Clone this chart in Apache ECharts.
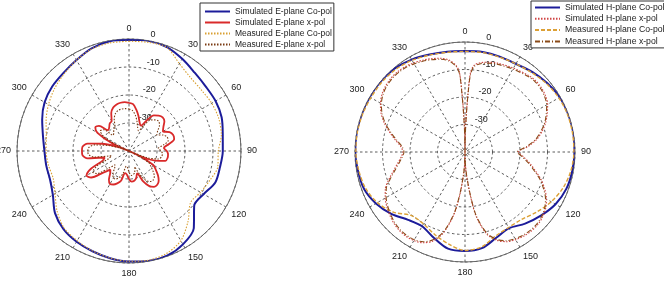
<!DOCTYPE html>
<html>
<head>
<meta charset="utf-8">
<script src="https://cdn.jsdelivr.net/npm/echarts@6/dist/echarts.min.js"></script>
<style>
  html, body { margin: 0; padding: 0; background: #fff; }
  #chart { width: 664px; height: 286px; }
</style>
</head>
<body>
<div id="chart"></div>
<script>
// ---- data (dB) ----
var coAngles = [0, 10, 20, 30, 40, 50, 60, 70, 80, 90, 100, 110, 120, 130, 140, 150, 160, 170,
                180, 190, 200, 210, 220, 230, 240, 250, 260, 270, 280, 290, 300, 310, 320, 330, 340, 350, 360];

var eSimCo  = [-0.3, 0, -0.5, -2, -3.5, -4.2, -4.3, -4.8, -6, -6.5, -7, -7.2, -9.2, -9.6, -4, -1.5, -0.2, -0.1,
               -0.5, -1.1, -1.9, -2.6, -3.6, -5.5, -8.6, -10, -10, -9.8, -8.8, -7, -5.2, -4.2, -3.6, -2.5, -1, -0.2, -0.3];
var eMeasCo = [-0.8, -0.6, -0.6, -4, -5.8, -6.2, -5.9, -5.9, -6.5, -8.1, -7.8, -9.3, -10.5, -11.3, -7.2, -3, -1, -0.4,
               -0.6, -1.2, -2, -3, -4, -6.5, -9.5, -11.2, -10.8, -10.4, -10, -8.5, -6.8, -5.3, -4, -2.5, -1.2, -0.8, -0.8];

var eXAngles = [0, 5, 10, 15, 20, 25, 30, 35, 40, 45, 50, 55, 60, 65, 70, 75, 80, 85, 90, 95, 100, 105, 110, 112,
                115, 120, 125, 130, 135, 140, 145, 150, 155, 160, 165, 170, 175, 180, 185, 190, 195, 200, 205, 210,
                215, 220, 225, 230, 235, 240, 245, 250, 255, 260, 265, 270, 275, 280, 285, 290, 292, 295, 300, 305,
                310, 315, 320, 325, 330, 335, 340, 345, 350, 355, 360];
var eSimX  = [-22.8, -23.2, -25, -27, -29, -30, -27.5, -24.5, -23.5, -23, -23.5, -25, -26, -24, -23.2, -23.3, -25.5,
              -27.5, -26.5, -26, -26, -26.5, -30, -40, -36, -30, -28.3, -26.5, -25, -24.3, -24.4, -25.5, -28, -31.5,
              -30, -29.2, -29, -30, -31.5, -32, -29, -27.7, -26.8, -26.4, -27.5, -29.5, -30.6, -28, -23.5, -22.5,
              -25, -30, -31, -25, -23.3, -23.2, -23.3, -25, -30, -36, -40, -33, -27, -25.3, -26, -29.5, -29, -28,
              -27.6, -25, -23.5, -22.8, -22.5, -22.5, -22.8];
var eMeasX = [-25, -25.5, -27, -29, -31, -32, -29.5, -26.5, -25.5, -25, -25.8, -27.5, -28.5, -26.5, -25.5, -25.5,
              -27.5, -29.5, -28.5, -28, -28.2, -29, -33, -40, -37, -32, -30.5, -28.8, -27.2, -26.5, -26.7, -27.8,
              -30.5, -34, -32, -31.5, -31.2, -32.5, -34, -34.5, -31.5, -30, -29, -28.8, -30, -32, -33, -30.5, -26,
              -25, -27.5, -32.5, -33.5, -27.5, -25.5, -25.3, -25.6, -27.5, -32.5, -37, -40, -35.5, -29.5, -27.5,
              -28.2, -32, -31.5, -30.5, -30, -27.5, -25.8, -25, -24.8, -24.8, -25];

var hSimCo  = [-3.3, -3.1, -3.1, -3, -2, -1, -0.2, 0, 0, -0.2, -0.4, -0.8, -2, -4, -6, -8, -6.8, -4.5,
               -4, -4.3, -6.8, -8.8, -7.8, -5, -2.6, -0.9, -0.5, -0.1, 0, 0, 0, 0, -0.3, -1.2, -2.3, -3, -3.3];
var hMeasCo = [-3.4, -3.3, -3.3, -3, -2.3, -1.3, -0.6, -0.3, -0.3, -0.4, -0.9, -2, -3.8, -6, -8, -8.3, -7.5, -5,
               -4.2, -6, -8, -9.8, -9.8, -6, -3.2, -1.5, -0.8, -0.3, -0.2, -0.3, -0.5, -0.5, -0.8, -1.5, -2.5, -3.2, -3.4];

var hXAngles = [0, 1, 2, 3, 4, 6, 10, 15, 20, 30, 40, 45, 50, 55, 60, 65, 70, 75, 80, 85, 90, 95, 100, 105, 110,
                115, 120, 125, 130, 135, 140, 145, 150, 155, 160, 165, 170, 173, 176, 178, 180, 182, 184, 187, 190,
                195, 200, 205, 210, 215, 220, 225, 230, 235, 240, 245, 250, 255, 260, 265, 270, 275, 280, 285, 290,
                295, 300, 305, 310, 315, 320, 325, 330, 335, 340, 345, 350, 354, 356, 357, 358, 359, 360];
var hSimX  = [-40, -33, -26, -18, -11, -8.3, -7, -6.2, -5.6, -4.8, -3.8, -3.5, -3.7, -4.3, -5.3, -7, -8.8, -11,
              -13.5, -17, -20.5, -18.5, -16, -13.5, -10.5, -8, -5.8, -4.2, -3.2, -2.6, -2.5, -2.7, -3.2, -4, -5.8,
              -9, -16, -24, -31, -35, -40, -35, -31, -24, -17, -9.5, -5.5, -3.6, -2.8, -2.6, -2.8, -3.4, -4.3, -5.3,
              -6.5, -8, -10.5, -13, -15, -16.6, -17.4, -16.5, -14.2, -11.5, -8.7, -6.3, -4.5, -3.2, -2.4, -2, -1.9,
              -2.1, -2.6, -3.2, -3.9, -4.7, -6, -8.3, -11, -18, -26, -33, -40];
var hMeasX = [-40, -34, -27, -19, -12, -8.8, -7.4, -6.6, -6, -5.2, -4.2, -3.9, -4.1, -4.7, -5.7, -7.4, -9.2, -11.5,
              -14, -17.5, -21, -19, -16.5, -14, -11, -8.5, -6.2, -4.6, -3.6, -3, -2.9, -3.1, -3.6, -4.4, -6.2, -9.5,
              -16.5, -24.5, -31.5, -35.5, -40, -35.5, -31.5, -24.5, -17.5, -10, -6, -4, -3.2, -3, -3.2, -3.8, -4.7,
              -5.7, -6.9, -8.4, -11, -13.5, -15.5, -17, -17.8, -17, -14.7, -12, -9.1, -6.7, -4.9, -3.6, -2.8, -2.4,
              -2.3, -2.5, -3, -3.6, -4.3, -5.1, -6.4, -8.7, -11.5, -19, -27, -34, -40];

var angleTicks = [0, 30, 60, 90, 120, 150, 180, 210, 240, 270, 300, 330];
var radialTicks = [-30, -20, -10, 0];

var eNames = ['Simulated E-plane Co-pol', 'Simulated E-plane x-pol', 'Measured E-plane Co-pol', 'Measured E-plane x-pol'];
var hNames = ['Simulated H-plane Co-pol', 'Simulated H-plane x-pol', 'Measured H-plane Co-pol', 'Measured H-plane x-pol'];

// ---- chart ----
var FONT = '"Liberation Sans", Arial, sans-serif';

function pairs(values, angles) {
    return values.map(function(v, i) { return [v, angles[i]]; });
}

function gridAngleAxis(idx) {
    return {
        polarIndex: idx, type: 'value', min: 0, max: 360, interval: 30,
        startAngle: 90, clockwise: true,
        axisLine: { lineStyle: { color: '#666', width: 1 } },
        axisTick: { show: false },
        axisLabel: {
            color: '#222', fontSize: 9, fontFamily: FONT, margin: 6,
            formatter: function(v) { return angleTicks.indexOf(v) >= 0 ? String(v) : ''; }
        },
        splitLine: { show: true, lineStyle: { color: '#333', width: 0.8, type: [2.5, 2.5] } }
    };
}

function gridRadiusAxis(idx) {
    return {
        polarIndex: idx, type: 'value', min: -40, max: 0, interval: 10,
        axisLine: { show: false }, axisTick: { show: false }, axisLabel: { show: false },
        splitLine: { show: true, lineStyle: { color: '#333', width: 0.8, type: [2.5, 2.5] } }
    };
}

// overlay polars only carry the dB labels, turned a few degrees off the top like the original
function labelAngleAxis(idx) {
    return { polarIndex: idx, type: 'value', min: 0, max: 360, startAngle: 82, show: false };
}

function labelRadiusAxis(idx) {
    return {
        polarIndex: idx, type: 'value', min: -40, max: 0, interval: 10,
        axisLine: { show: false }, axisTick: { show: false }, splitLine: { show: false },
        axisLabel: {
            margin: -6, align: 'left', verticalAlign: 'bottom', padding: [0, 0, 2, 0],
            color: '#222', fontSize: 9, fontFamily: FONT,
            formatter: function(v) { return radialTicks.indexOf(v) >= 0 ? String(v) : ''; }
        }
    };
}

function legend(names, left, top, gap, padding, size) {
    return {
        data: names, orient: 'vertical', left: left, top: top,
        itemWidth: 25, itemHeight: 10, itemGap: gap, padding: padding,
        borderColor: '#333', borderWidth: 1, backgroundColor: '#fff',
        selectedMode: false,
        itemStyle: { opacity: 0 },
        textStyle: { fontSize: size, fontFamily: FONT, color: '#222' }
    };
}

function line(name, polarIdx, data, color, width, type) {
    return {
        name: name, type: 'line', coordinateSystem: 'polar', polarIndex: polarIdx,
        data: data, symbol: 'none', showSymbol: false, smooth: 0.3, animation: false,
        lineStyle: { color: color, width: width, type: type },
        itemStyle: { color: color }
    };
}

var chart = echarts.init(document.getElementById('chart'), null, { renderer: 'canvas' });

var option = {
    backgroundColor: '#fff',
    animation: false,
    polar: [
        { center: [129, 151], radius: 112 },
        { center: [465, 152], radius: 110 },
        { center: [129, 151], radius: 112 },
        { center: [465, 152], radius: 110 }
    ],
    angleAxis: [gridAngleAxis(0), gridAngleAxis(1), labelAngleAxis(2), labelAngleAxis(3)],
    radiusAxis: [gridRadiusAxis(0), gridRadiusAxis(1), labelRadiusAxis(2), labelRadiusAxis(3)],
    legend: [
        legend(eNames, 200, 3, 2, [4, 2, 2, 4], 8.5),
        legend(hNames, 531, 1, 2.3, [2, 3, 2, 3], 8.7)
    ],
    series: [
        line(eNames[0], 0, pairs(eSimCo, coAngles), '#1c1c9a', 2, 'solid'),
        line(eNames[1], 0, pairs(eSimX, eXAngles), '#d92a2a', 1.8, 'solid'),
        line(eNames[2], 0, pairs(eMeasCo, coAngles), '#d9a032', 1.1, [1.5, 1.5]),
        line(eNames[3], 0, pairs(eMeasX, eXAngles), '#7a3a12', 1.1, [1.5, 1.5]),
        line(hNames[0], 1, pairs(hSimCo, coAngles), '#1c1c9a', 2, 'solid'),
        line(hNames[1], 1, pairs(hSimX, hXAngles), '#d04545', 1.1, [1.5, 1.5]),
        line(hNames[2], 1, pairs(hMeasCo, coAngles), '#dca035', 1.4, [4, 2]),
        line(hNames[3], 1, pairs(hMeasX, hXAngles), '#8a4a18', 1.1, [5, 2, 1, 2])
    ]
};

chart.setOption(option);
</script>
</body>
</html>
